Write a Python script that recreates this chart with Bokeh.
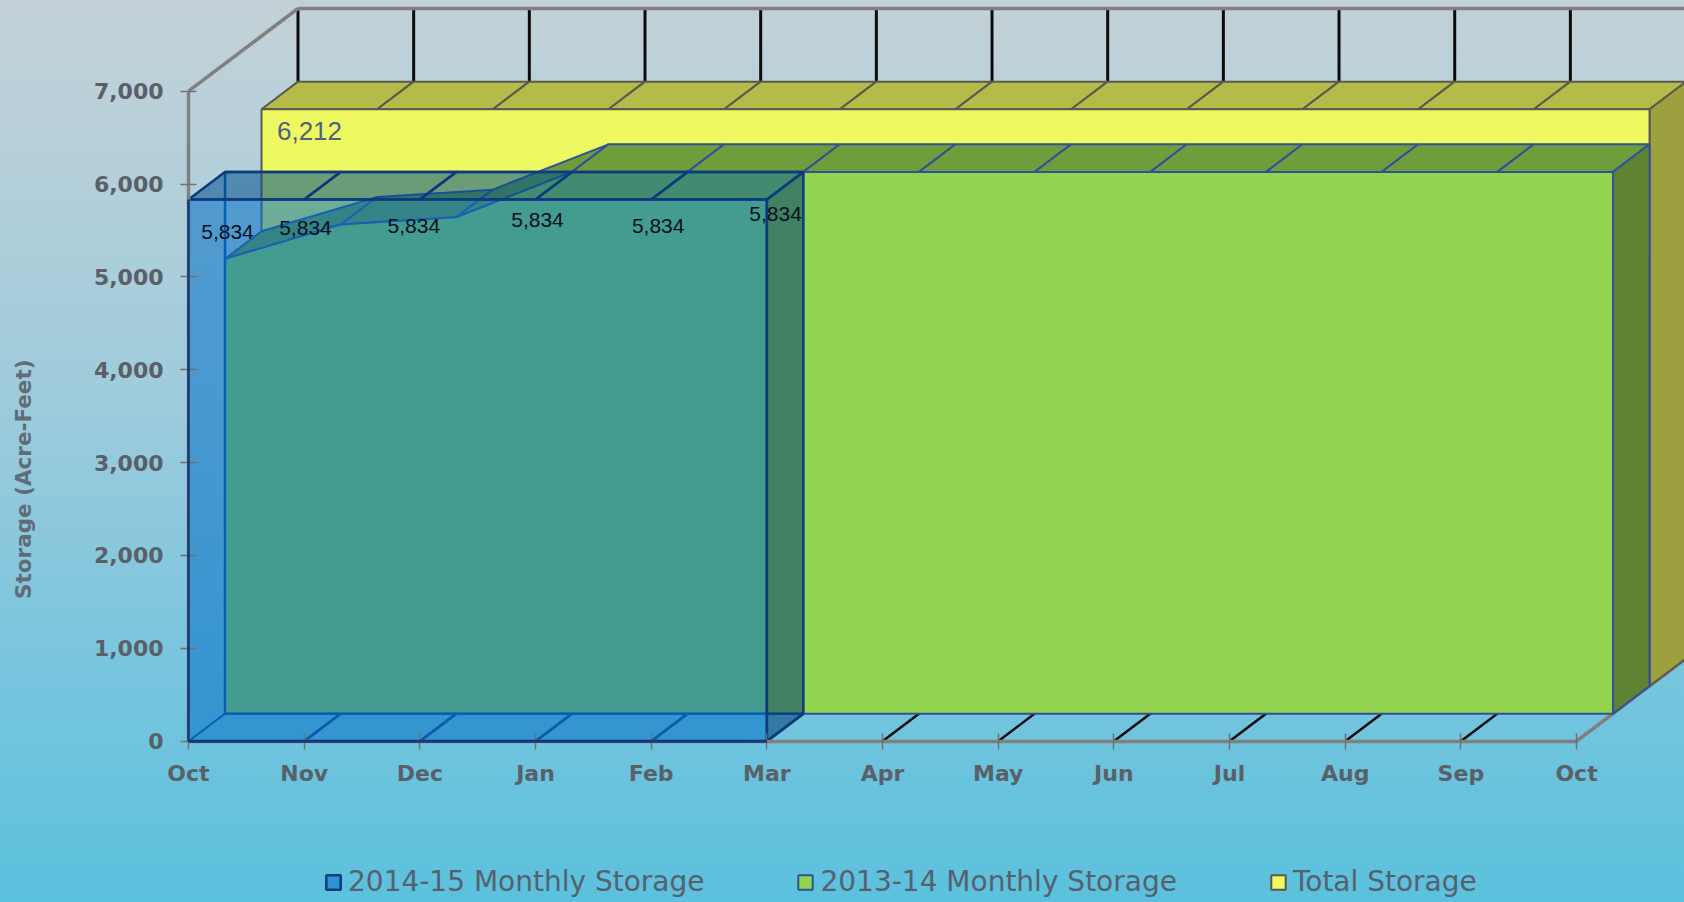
from bokeh.plotting import figure
from bokeh.embed import file_html
from bokeh.resources import INLINE
from bokeh.models import FixedTicker, NumeralTickFormatter, Legend, LegendItem, Range1d
from bokeh.core.properties import value
import math

months = ["Oct","Nov","Dec","Jan","Feb","Mar","Apr","May","Jun","Jul","Aug","Sep","Oct"]
blue_2014_15 = [5834, 5834, 5834, 5834, 5834, 5834]
green_2013_14 = [4898, 5267, 5346, 5834, 5834, 5834, 5834, 5834, 5834, 5834, 5834, 5834, 5834]
yellow_total = [6212]*13
y_ticks = [0,1000,2000,3000,4000,5000,6000,7000]

# depth of the pseudo-3D box, in axis units
DX, DV = 0.9467, 890.6
def pr(m, z, v):
    return m + z*DX, v + z*DV

PX_M, PX_V = 115.67, 0.09286   # pixels per month, pixels per acre-foot
p = figure(width=1684, height=902, frame_width=1684, frame_height=902,
           min_border=0,
           x_range=Range1d(-188/PX_M, 1496/PX_M), y_range=Range1d(-161.3/PX_V, 740.7/PX_V),
           output_backend="svg", toolbar_location=None)
p.styles = {"background": "linear-gradient(180deg,#c3d1d7 0%,#b8d0da 15%,#9dcbdc 45%,#77c5de 75%,#5bc1dd 100%)"}
p.background_fill_alpha = 0
p.border_fill_alpha = 0
p.outline_line_alpha = 0
p.grid.visible = False

GRAY = "#808080"; TXT = "#5a6068"
ax = p.xaxis[0]
ax.ticker = FixedTicker(ticks=list(range(13)))
ax.major_label_overrides = {i: m for i, m in enumerate(months)}
ax.bounds = (0, 12)
ax.fixed_location = 0
ay = p.yaxis[0]
ay.ticker = FixedTicker(ticks=y_ticks)
ay.formatter = NumeralTickFormatter(format="0,0")
ay.bounds = (0, 7000)
ay.fixed_location = 0
for a in (ax, ay):
    a.axis_line_color = GRAY; a.axis_line_width = 3.5
    a.major_tick_line_color = "#707070"; a.major_tick_line_width = 1.5
    a.major_tick_in = 8; a.major_tick_out = 8
    a.minor_tick_line_color = None
    a.major_label_text_color = TXT
    a.major_label_text_font = "DejaVu Sans"
    a.major_label_text_font_style = "bold"
    a.major_label_text_font_size = "22px"
ax.major_label_standoff = 12
ay.major_label_standoff = 17

def seg(mx0, mx1, **kw):
    xs, ys = zip(*[pr(*a) for a in (mx0, mx1)])
    p.line(list(xs), list(ys), **kw)

# walls
for i in range(13):
    a, b = pr(i, 1, 0), pr(i, 1, 7000)
    p.line([a[0], b[0]], [a[1], b[1]], line_color="#0c0c0c", line_width=3)
    if i > 0:
        a, b = pr(i, 0, 0), pr(i, 1, 0)
        p.line([a[0], b[0]], [a[1], b[1]], line_color="#0c0c0c", line_width=2.5)
seg((0,0,7000),(0,1,7000), line_color=GRAY, line_width=3.5)
seg((0,1,7000),(12,1,7000), line_color=GRAY, line_width=3.5)
seg((12,0,0),(12,1,0), line_color=GRAY, line_width=3.5)

def poly(pts, **kw):
    xs, ys = zip(*pts)
    return p.patch(list(xs), list(ys), **kw)

def box(vals, z0, z1, front, top, side, line, lw, falpha=1.0, talpha=1.0, salpha=1.0):
    n = len(vals)
    for i in range(n-1):
        poly([pr(i,z0,vals[i]), pr(i+1,z0,vals[i+1]), pr(i+1,z1,vals[i+1]), pr(i,z1,vals[i])],
             fill_color=top, fill_alpha=talpha, line_color=line, line_width=lw)
    e = n-1
    poly([pr(e,z0,0), pr(e,z1,0), pr(e,z1,vals[e]), pr(e,z0,vals[e])],
         fill_color=side, fill_alpha=salpha, line_color=line, line_width=lw)
    pts = [pr(0,z0,0)] + [pr(i,z0,vals[i]) for i in range(n)] + [pr(e,z0,0)]
    return poly(pts, fill_color=front, fill_alpha=falpha, line_color=line, line_width=lw)

r_y = box(yellow_total, 2/3, 1, "#eef860", "#b5bb48", "#9ca03f", "#5a5a50", 2)
r_g = box(green_2013_14, 1/3, 2/3, "#92d350", "#6f9d3c", "#5e8433", "#33509a", 2)

# blue: back outline and floor first, then translucent faces
BL = "#0b4fa8"
e = len(blue_2014_15)-1
seg((0,1/3,0),(0,1/3,blue_2014_15[0]), line_color=BL, line_width=2.5)
seg((0,1/3,0),(e,1/3,0), line_color=BL, line_width=2.5)
seg((0,1/3,blue_2014_15[0]),(e,1/3,blue_2014_15[0]), line_color="#0a3a80", line_width=2.5)
for i in range(e):
    seg((i,0,0),(i,1/3,0), line_color=BL, line_width=2)
r_b = box(blue_2014_15, 0, 1/3, "#036fc4", "#00508c", "#003c74", "#0c3a7c", 2.5,
          falpha=0.55, talpha=0.55, salpha=0.55)
seg((0,0,0),(e,0,0), line_color="#0c3a7c", line_width=3, level="overlay")
seg((0,0,0),(0,0,blue_2014_15[0]), line_color="#0c3a7c", line_width=2.5, level="overlay")

# data labels
lab_dx = [39, 1.3, -6, 2, 7, 8.7]
lab_dy = [33, 29, 27, 21, 27, 15]
p.text(list(range(6)), blue_2014_15, text=[f"{v:,}" for v in blue_2014_15],
       x_offset=lab_dx, y_offset=lab_dy, text_align="center", text_baseline="middle",
       text_color="#06101c", text_font=value("Liberation Sans"), text_font_size="21px")
tx, ty = pr(0, 2/3, yellow_total[0])
p.text([tx], [ty], text=[f"{yellow_total[0]:,}"], x_offset=[48], y_offset=[22],
       text_align="center", text_baseline="middle", text_color="#50607f",
       text_font=value("Liberation Sans"), text_font_size="26px")

# y-axis title, hung off the axis origin
p.text([0], [0], text=["Storage (Acre-Feet)"], x_offset=[-165], y_offset=[-262], angle=math.pi/2,
       text_align="center", text_baseline="middle", text_color="#5f6d78",
       text_font=value("DejaVu Sans"), text_font_style="bold", text_font_size="21.5px")

leg = Legend(items=[LegendItem(label="2014-15 Monthly Storage", renderers=[r_b]),
                    LegendItem(label="2013-14 Monthly Storage", renderers=[r_g]),
                    LegendItem(label="Total Storage", renderers=[r_y])],
             orientation="horizontal", location=(324, 4), spacing=92,
             glyph_width=18, glyph_height=18, label_standoff=6,
             label_text_font="DejaVu Sans", label_text_font_size="28px", label_text_color="#56606e",
             background_fill_alpha=0, border_line_alpha=0, padding=0, margin=0)
p.add_layout(leg, "center")

open("out.html", "w").write(file_html(p, INLINE))
